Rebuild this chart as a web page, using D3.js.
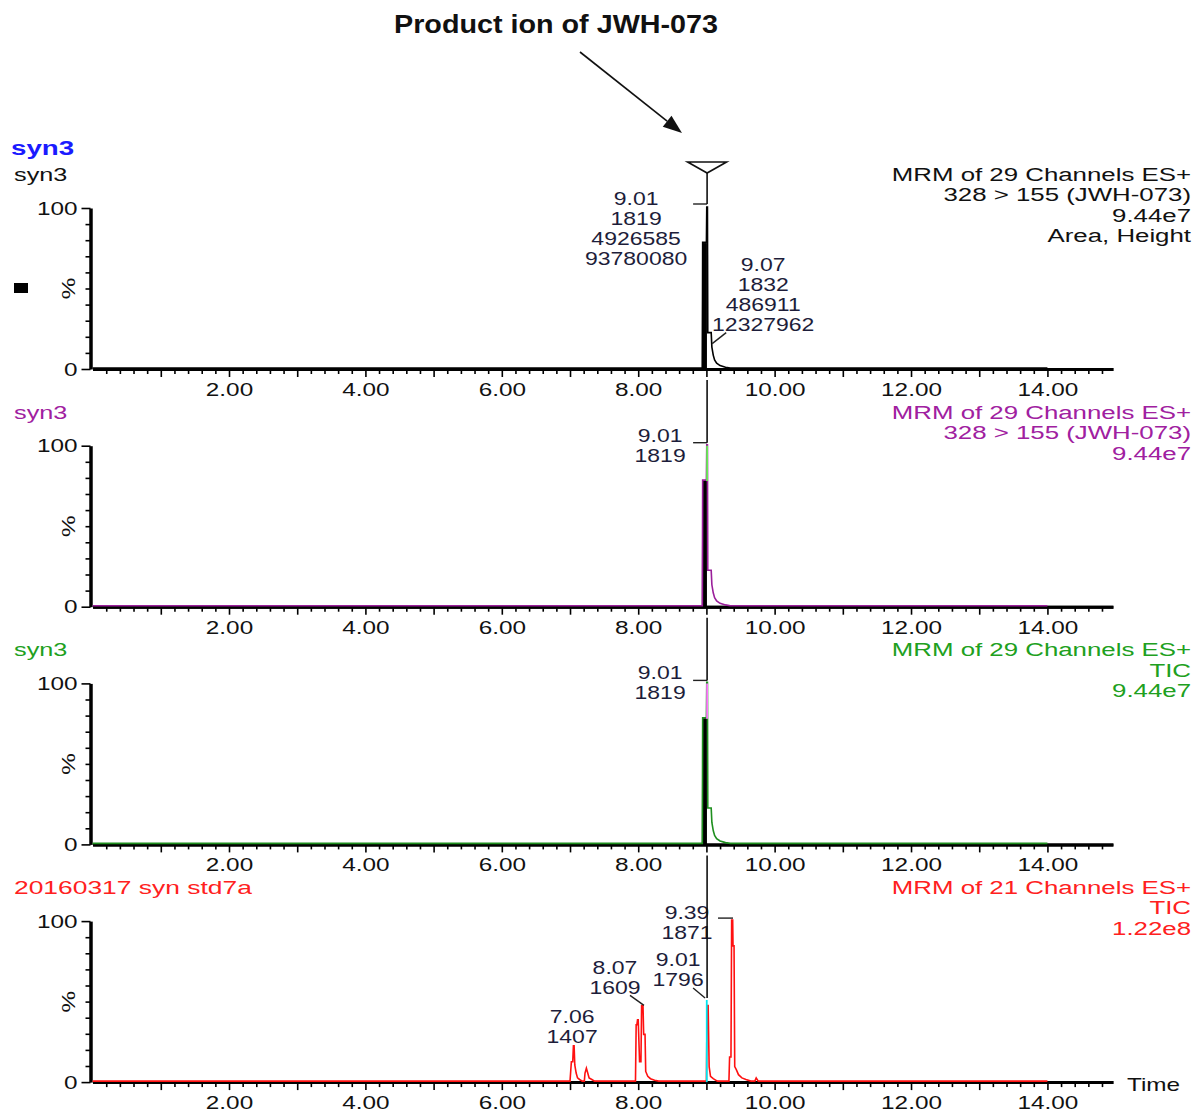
<!DOCTYPE html>
<html>
<head>
<meta charset="utf-8">
<script src="https://cdn.jsdelivr.net/npm/d3@7"></script>
<style>
  html, body { margin: 0; padding: 0; background: #fff; }
  svg { display: block; }
  text { font-family: "Liberation Sans", Arial, sans-serif; }
</style>
</head>
<body>
<svg id="chart" width="1200" height="1113"></svg>
<script>
// ---------------- DATA ----------------
const chartTitle = "Product ion of JWH-073";
const sampleHeader = "syn3";
const panelNames = ["syn3", "syn3", "syn3", "20160317 syn std7a"];
const panelInfo = [
  ["MRM of 29 Channels ES+", "328 > 155 (JWH-073)", "9.44e7", "Area, Height"],
  ["MRM of 29 Channels ES+", "328 > 155 (JWH-073)", "9.44e7"],
  ["MRM of 29 Channels ES+", "TIC", "9.44e7"],
  ["MRM of 21 Channels ES+", "TIC", "1.22e8"]
];
const xTickLabels = ["2.00", "4.00", "6.00", "8.00", "10.00", "12.00", "14.00"];
const yTickLabels = ["0", "100"];
const xAxisTitle = "Time";
const yAxisTitle = "%";

// JWH-073 channel 328 > 155 (sample syn3), relative intensity %
const jwhTimes = [0.00, 8.94, 8.945, 9.00, 9.005, 9.015, 9.02, 9.07, 9.08, 9.10, 9.12, 9.15, 9.20, 9.28, 9.35, 14.00];
const jwhMrm   = [0,    0,    78,    78,   100,   100,   22,   22,   13,   8,    5,    3,    1.5,  0.5,  0,    0];
// TIC of syn3
const synTicTimes = [0.00, 8.94, 8.945, 9.00, 9.005, 9.015, 9.02, 9.07, 9.08, 9.10, 9.12, 9.15, 9.20, 9.28, 9.35, 14.00];
const synTic      = [0,    0,    78,    78,   100,   100,   22,   22,   13,   8,    5,    3,    1.5,  0.5,  0,    0];
// TIC of standard mix 20160317 syn std7a
const stdTimes = [0.00, 7.00, 7.02, 7.04, 7.05, 7.06, 7.07, 7.09, 7.11, 7.14, 7.18, 7.21, 7.22, 7.24, 7.26, 7.28, 7.32, 7.36,
                  7.96, 7.97, 7.98, 7.99, 8.00, 8.02, 8.04, 8.05, 8.07, 8.08, 8.10, 8.11, 8.14, 8.18, 8.24, 8.30,
                  9.00, 9.01, 9.025, 9.04, 9.06, 9.10, 9.16,
                  9.33, 9.34, 9.36, 9.37, 9.385, 9.39, 9.405, 9.415, 9.44, 9.47, 9.52, 9.58, 9.65, 9.71, 9.73, 9.76, 14.00];
const stdTic   = [0,    0,    12,   12,   22,   22,   10,   5,    2,    1,    0,    0,    5,    8,    5,    2,    1,    0,
                  0,    35,   35,   38,   38,   12,   12,   47,   47,   29,   29,   6,    3,    1.5,  0.5,  0,
                  0,    47,   47,   9,    3,    1.5,  0,
                  0,    15,   15,   100,  100,  84,   84,   9,    7,    4,    2,    1,    0,    0,    2,    0,    0];

// integrated window (black fill) per panel and apex marker
const integWindow = [[8.94, 9.00], [8.94, 9.00], [8.94, 9.00], null];
const apexMarks = [
  {t: 9.01, from: 78, to: 100},
  {t: 9.01, from: 78, to: 100},
  {t: 9.01, from: 78, to: 100},
  {t: 9.005, from: 0, to: 51}
];

const peakLabels = [
  [ {t: 9.01, v: 100, lines: ["9.01", "1819", "4926585", "93780080"]},
    {t: 9.07, v: 22,  lines: ["9.07", "1832", "486911", "12327962"]} ],
  [ {t: 9.01, v: 100, lines: ["9.01", "1819"]} ],
  [ {t: 9.01, v: 100, lines: ["9.01", "1819"]} ],
  [ {t: 7.06, v: 22,  lines: ["7.06", "1407"]},
    {t: 8.07, v: 47,  lines: ["8.07", "1609"]},
    {t: 9.01, v: 51,  lines: ["9.01", "1796"]},
    {t: 9.39, v: 100, lines: ["9.39", "1871"]} ]
];
const markerTime = 9.01;

// ---------------- LAYOUT / STYLE ----------------
const traces = [
  {times: jwhTimes, vals: jwhMrm},
  {times: jwhTimes, vals: jwhMrm},
  {times: synTicTimes, vals: synTic},
  {times: stdTimes, vals: stdTic}
];
const traceColors = ["#000000", "#9a1f9a", "#1f8f1f", "#ff1010"];
const textColors  = ["#111111", "#a020a0", "#20a020", "#ff2020"];
const apexColors  = ["#000000", "#66ee55", "#ff77ff", "#00e5f0"];
const labelLayout = [
  [ {dx: -71, dy: -10, leader: [[-14, -4], [0, -4]]},
    {dx: 52, dy: -69, leader: [[15, -1], [1, 10]]} ],
  [ {dx: -47, dy: -11, leader: [[-14, -3], [0, -3]]} ],
  [ {dx: -47, dy: -11, leader: [[-14, -3], [0, -3]]} ],
  [ {dx: -2, dy: -31, leader: null},
    {dx: -28, dy: -39, leader: [[-13, -11], [1, -1]]},
    {dx: -29, dy: -41, leader: [[-14, -12], [-2, -2]]},
    {dx: -46, dy: -9,  leader: [[-15, -3], [0, -3]]} ]
];

const SX = 1.28;         // horizontal stretch of axis text
const SX_TXT = 1.36;     // stretch of header texts
const SX_NUM = 1.21;     // stretch of peak annotations
const FS = 19;           // base font size
const panelTop0 = 208, panelStep = 237.7, panelH = 161;

const svg = d3.select("#chart");
const x = d3.scaleLinear().domain([0, 14.96]).range([92.6, 1112.9]);

function txt(g, px, py, s, o = {}) {
  const size = o.size || FS;
  return g.append("text")
    .attr("transform", `translate(${px},${py + size * 0.36}) scale(${o.sx || SX},1)`)
    .attr("text-anchor", o.anchor || "start")
    .attr("font-size", size)
    .attr("font-weight", o.weight || "normal")
    .attr("fill", o.color || "#111")
    .text(s);
}

// Title + arrow
svg.append("text")
  .attr("x", 556).attr("y", 33)
  .attr("text-anchor", "middle")
  .attr("font-family", "'DejaVu Sans', sans-serif")
  .attr("font-weight", "bold")
  .attr("font-size", 25)
  .attr("textLength", 324)
  .attr("lengthAdjust", "spacingAndGlyphs")
  .attr("fill", "#111")
  .text(chartTitle);
{
  const x1 = 580, y1 = 52, x2 = 682, y2 = 133;
  const ang = Math.atan2(y2 - y1, x2 - x1), L = 19, Wd = 7;
  const bx = x2 - L * Math.cos(ang), by = y2 - L * Math.sin(ang);
  svg.append("line").attr("x1", x1).attr("y1", y1).attr("x2", bx).attr("y2", by)
    .attr("stroke", "#111").attr("stroke-width", 1.6);
  svg.append("path")
    .attr("d", `M${x2},${y2}L${bx - Wd * Math.sin(ang)},${by + Wd * Math.cos(ang)}L${bx + Wd * Math.sin(ang)},${by - Wd * Math.cos(ang)}Z`)
    .attr("fill", "#111");
}

txt(svg, 11, 147, sampleHeader, {size: 21, weight: "bold", color: "#1a1aff", sx: 1.32});

const xMinor = d3.range(1, 75).map(i => +(i * 0.2).toFixed(1)).filter(v => Math.abs(v - Math.round(v)) > 1e-6);
const xMajor = d3.range(1, 15);

const leaderYs = [];

panelNames.forEach((name, i) => {
  const top = panelTop0 + i * panelStep;
  const bottom = top + panelH;
  const y = d3.scaleLinear().domain([0, 100]).range([bottom, top]);
  const g = svg.append("g");

  // headers
  txt(g, 14, top - 34, name, {color: textColors[i], sx: i === 3 ? 1.39 : 1.33});
  panelInfo[i].forEach((line, k) => {
    txt(g, 1191, top - 34 + k * 20.5, line, {anchor: "end", color: textColors[i], sx: SX_TXT});
  });

  // x axis
  const gxMinor = g.append("g").attr("transform", `translate(0,${bottom})`)
    .call(d3.axisBottom(x).tickValues(xMinor).tickSize(5).tickSizeOuter(0).tickFormat(""));
  const gx = g.append("g").attr("transform", `translate(0,${bottom})`)
    .call(d3.axisBottom(x).tickValues(xMajor).tickSize(8).tickPadding(5.5).tickSizeOuter(0)
      .tickFormat(d => d % 2 === 0 ? xTickLabels[d / 2 - 1] : ""));
  [gxMinor, gx].forEach(a => {
    a.select(".domain").attr("stroke", "#000").attr("stroke-width", 3);
    a.selectAll(".tick line").attr("stroke", "#000").attr("stroke-width", 1.6);
  });
  gx.selectAll(".tick text")
    .attr("font-size", FS).attr("font-family", "'Liberation Sans', Arial, sans-serif")
    .attr("fill", "#111").attr("transform", `scale(${SX},1)`);

  // y axis
  const gy = g.append("g").attr("transform", "translate(90.5,0)")
    .call(d3.axisLeft(y).tickValues(d3.range(0, 101, 10)).tickSize(5).tickSizeOuter(0)
      .tickFormat(d => d === 0 ? yTickLabels[0] : d === 100 ? yTickLabels[1] : ""));
  gy.select(".domain").attr("stroke", "#000").attr("stroke-width", 3.5);
  gy.selectAll(".tick line").attr("stroke", "#000").attr("stroke-width", 1.6)
    .attr("x2", d => (d === 0 || d === 100) ? -9 : -5);
  gy.selectAll(".tick text")
    .attr("font-size", FS).attr("font-family", "'Liberation Sans', Arial, sans-serif")
    .attr("fill", "#111").attr("x", -13 / SX).attr("transform", `scale(${SX},1)`);
  g.append("text")
    .attr("transform", `translate(${68 + 0.36 * FS},${y(50)}) rotate(-90) scale(${SX},1)`)
    .attr("text-anchor", "middle").attr("font-size", FS).attr("fill", "#111")
    .text(yAxisTitle);

  if (i === 0) {
    g.append("rect").attr("x", 14).attr("y", 283).attr("width", 14).attr("height", 10).attr("fill", "#000");
  }
  if (i === 3) {
    txt(g, 1127, bottom + 2, xAxisTitle, {color: "#111"});
  }

  // trace data
  const tr = traces[i];
  const pts = tr.times.map((t, k) => [t, tr.vals[k]]);

  if (integWindow[i]) {
    const [a, b] = integWindow[i];
    const sub = pts.filter(p => p[0] >= a - 1e-9 && p[0] <= b + 1e-9);
    g.append("path").datum(sub)
      .attr("d", d3.area().x(p => x(p[0])).y0(y(0)).y1(p => y(p[1])))
      .attr("fill", "#000").attr("stroke", "#000").attr("stroke-width", 1);
  }

  g.append("path").datum(pts)
    .attr("d", d3.line().x(p => x(p[0])).y(p => y(p[1]) - 1))
    .attr("fill", "none").attr("stroke", traceColors[i]).attr("stroke-width", 1.6)
    .attr("stroke-linejoin", "miter");

  const am = apexMarks[i];
  g.append("line")
    .attr("x1", x(am.t)).attr("x2", x(am.t))
    .attr("y1", y(am.from)).attr("y2", y(am.to))
    .attr("stroke", apexColors[i]).attr("stroke-width", 1.8);

  // peak labels
  peakLabels[i].forEach((pk, k) => {
    const lay = labelLayout[i][k];
    const px = x(pk.t), py = y(pk.v);
    pk.lines.forEach((ln, j) => {
      txt(g, px + lay.dx, py + lay.dy + j * 20, ln, {anchor: "middle", color: "#1d1d3a", sx: SX_NUM});
    });
    if (lay.leader) {
      g.append("line")
        .attr("x1", px + lay.leader[0][0]).attr("y1", py + lay.leader[0][1])
        .attr("x2", px + lay.leader[1][0]).attr("y2", py + lay.leader[1][1])
        .attr("stroke", "#222").attr("stroke-width", 1.4);
    }
    if (Math.abs(pk.t - markerTime) < 1e-6 && lay.leader) {
      leaderYs[i] = py + lay.leader[1][1];
    }
  });
});

// Marker (triangle + vertical guide line through the panels at 9.01)
{
  const mx = x(markerTime);
  svg.append("path")
    .attr("d", `M${mx - 19.5},162L${mx + 19.5},162L${mx},173Z`)
    .attr("fill", "#fff").attr("stroke", "#111").attr("stroke-width", 1.6);
  const segs = [[173, leaderYs[0]]];
  for (let i = 1; i < 4; i++) {
    const prevBottom = panelTop0 + (i - 1) * panelStep + panelH;
    segs.push([prevBottom + 11, leaderYs[i]]);
  }
  segs.forEach(([a, b]) => {
    svg.append("line").attr("x1", mx).attr("x2", mx).attr("y1", a).attr("y2", b)
      .attr("stroke", "#111").attr("stroke-width", 1.6);
  });
}
</script>
</body>
</html>
